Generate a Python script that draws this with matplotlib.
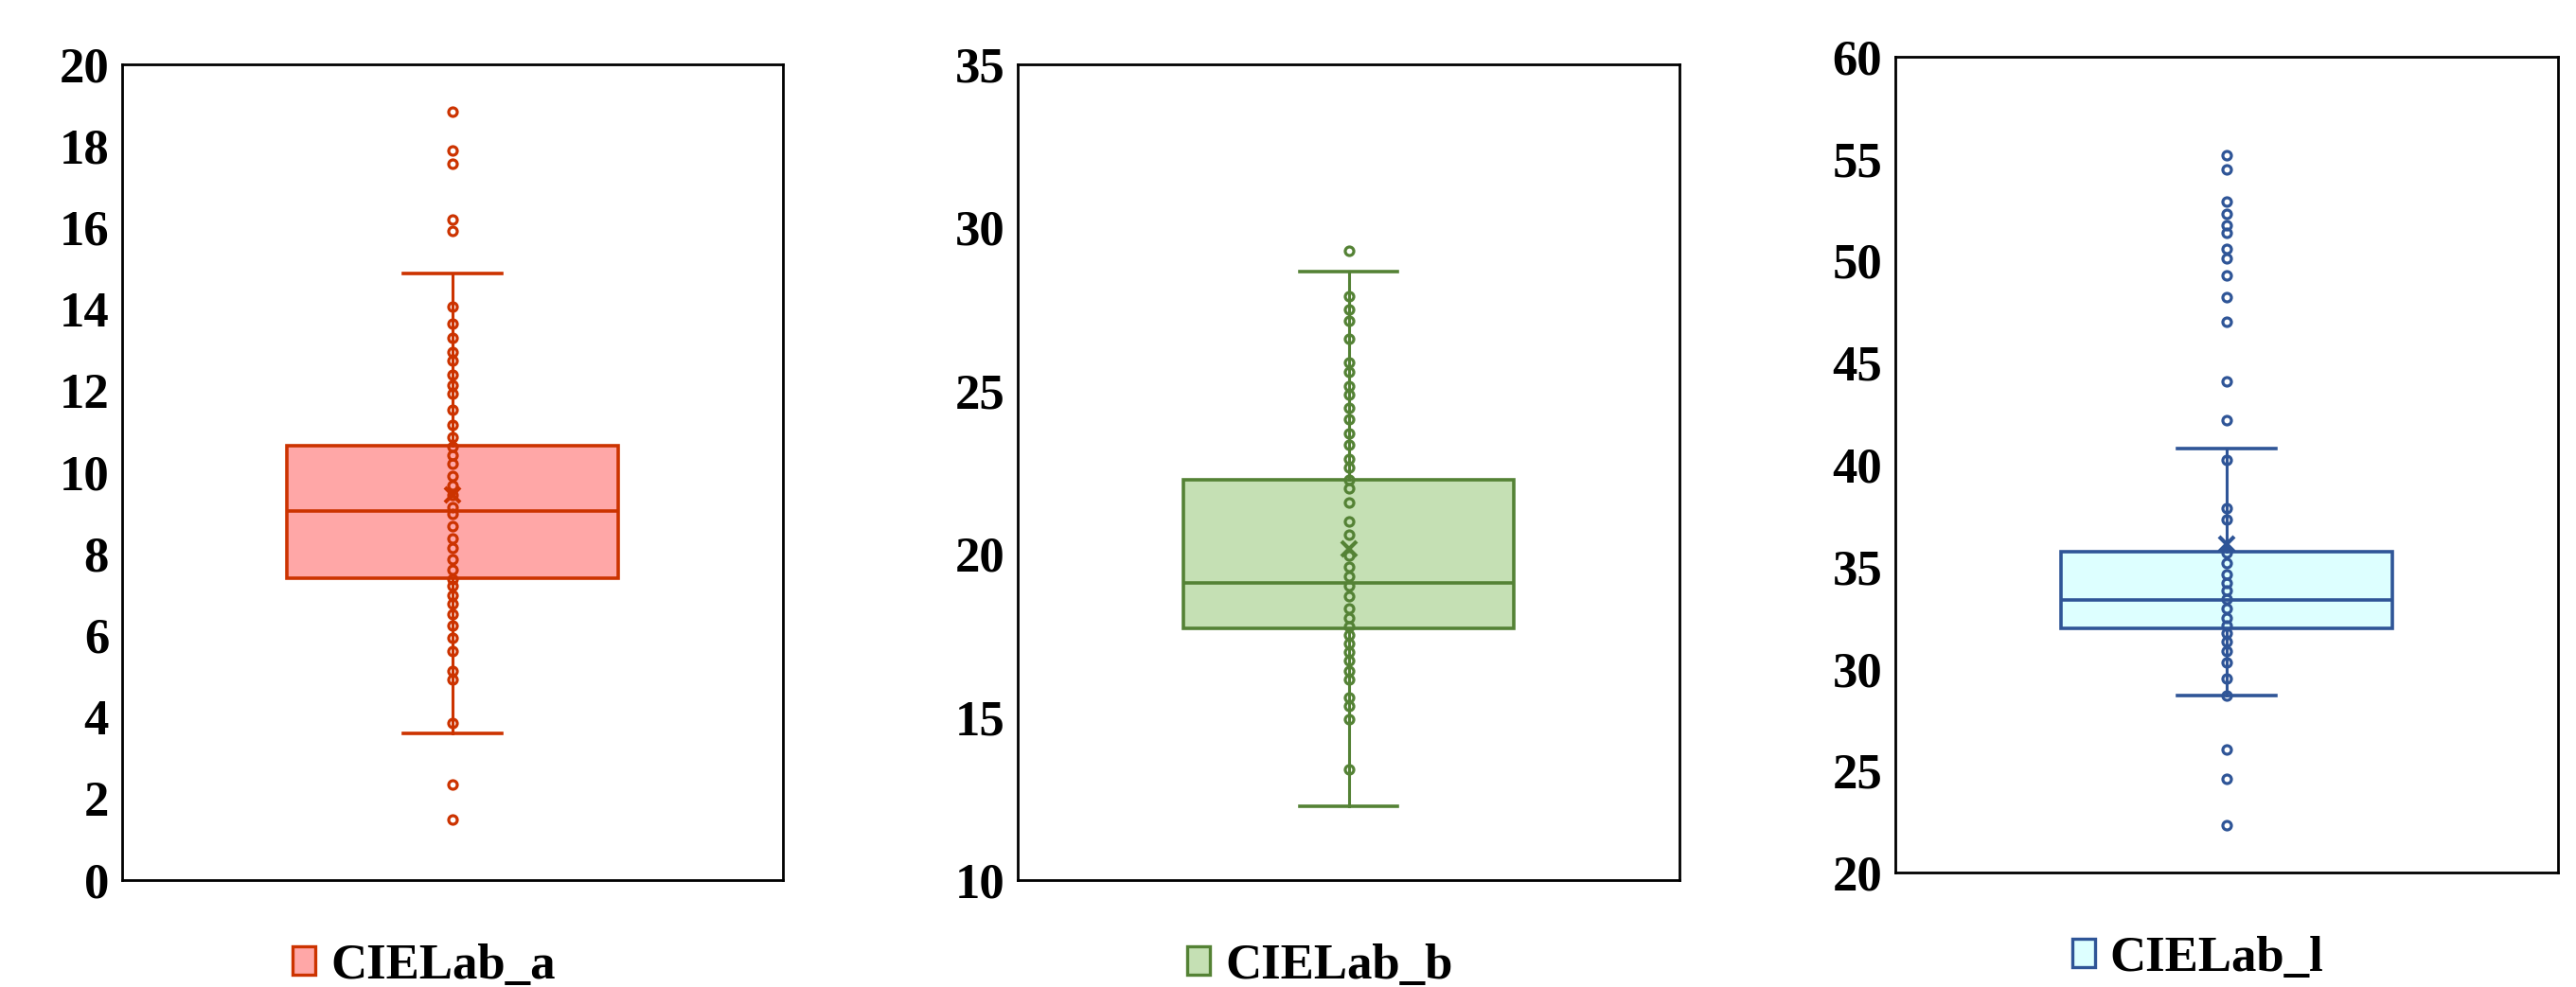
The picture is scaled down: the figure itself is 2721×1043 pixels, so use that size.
import matplotlib
matplotlib.use("Agg")
import matplotlib.pyplot as plt
from matplotlib.patches import Patch

plt.rcParams['font.family'] = ['Liberation Serif', 'DejaVu Serif']
plt.rcParams['font.weight'] = 'bold'

# series names
names = ['CIELab_a', 'CIELab_b', 'CIELab_l']

# inner points / outliers
a_points = [18.84, 17.89, 17.56, 16.20, 15.92, 14.05, 13.64, 13.29, 12.94, 12.74,
            12.38, 12.14, 11.93, 11.54, 11.15, 10.87, 10.62, 10.42, 10.21, 9.90,
            9.68, 9.44, 9.13, 8.97, 8.68, 8.37, 8.15, 7.87, 7.62, 7.38, 7.22,
            6.98, 6.77, 6.51, 6.24, 5.94, 5.61, 5.12, 4.92, 3.86, 2.35, 1.48]
b_points = [29.29, 27.89, 27.50, 27.15, 26.59, 25.86, 25.58, 25.13, 24.89, 24.48,
            24.13, 23.68, 23.34, 22.90, 22.65, 22.26, 22.01, 21.57, 20.98, 20.58,
            19.96, 19.60, 19.30, 19.03, 18.70, 18.31, 18.04, 17.78, 17.52, 17.25,
            17.00, 16.73, 16.40, 16.16, 15.59, 15.35, 14.93, 13.38]
l_points = [55.16, 54.46, 52.90, 52.31, 51.74, 51.35, 50.60, 50.13, 49.27, 48.23,
            47.01, 44.10, 42.20, 40.22, 37.85, 37.30, 35.68, 35.17, 34.63, 34.21,
            33.81, 33.40, 32.93, 32.50, 32.13, 31.73, 31.31, 30.84, 30.30, 29.53,
            28.70, 26.03, 24.58, 22.33]

# box statistics: q1, median, q3, lower whisker, upper whisker, mean
a_stats = [7.40, 9.05, 10.65, 3.60, 14.87, 9.44]
b_stats = [17.71, 19.11, 22.26, 12.25, 28.66, 20.15]
l_stats = [31.96, 33.35, 35.75, 28.68, 40.80, 36.10]

# y axis ranges and ticks
y_ranges = [(0, 20), (10, 35), (20, 60)]
y_ticks = [list(range(0, 21, 2)), list(range(10, 36, 5)), list(range(20, 61, 5))]

edge_colors = ['#CC3300', '#548235', '#2F5597']
fill_colors = ['#FFA7A7', '#C5E0B4', '#DDFFFF']

points_all = [a_points, b_points, l_points]
stats_all = [a_stats, b_stats, l_stats]

W, H = 2721, 1043
fig = plt.figure(figsize=(W / 100, H / 100), dpi=100)

# axes positions in pixels: left, top, right, bottom
boxes = [(129, 68, 827, 930), (1075, 68, 1774, 930), (2002, 60, 2702, 922)]

for i in range(3):
    l, t, r, b = boxes[i]
    ax = fig.add_axes([l / W, 1 - b / H, (r - l) / W, (b - t) / H])
    ec = edge_colors[i]
    q1, med, q3, lo, hi, mean = stats_all[i]
    st = [{'q1': q1, 'med': med, 'q3': q3, 'whislo': lo, 'whishi': hi,
           'mean': mean, 'fliers': []}]
    ax.bxp(st, positions=[1], widths=0.5, capwidths=0.148, patch_artist=True,
           showmeans=False, showfliers=False,
           boxprops=dict(facecolor=fill_colors[i], edgecolor=ec, linewidth=2.6),
           medianprops=dict(color=ec, linewidth=2.6),
           whiskerprops=dict(color=ec, linewidth=2.2),
           capprops=dict(color=ec, linewidth=2.6))
    ax.plot([1] * len(points_all[i]), points_all[i], linestyle='none', marker='o',
            markersize=6.5, markeredgewidth=2.3, markeredgecolor=ec,
            markerfacecolor='none', zorder=4)
    ax.plot([1], [mean], linestyle='none', marker='x', markersize=11,
            markeredgewidth=3, color=ec, zorder=5)

    ax.set_xlim(0.5, 1.5)
    ax.set_ylim(*y_ranges[i])
    ax.set_yticks(y_ticks[i])
    ax.set_xticks([])
    ax.tick_params(axis='y', length=0, pad=10, labelsize=38)
    for lab in ax.get_yticklabels():
        lab.set_fontweight('bold')
    for sp in ax.spines.values():
        sp.set_linewidth(2)
        sp.set_color('black')

    handle = Patch(facecolor=fill_colors[i], edgecolor=ec, linewidth=2.4)
    ax.legend([handle], [names[i]], loc='center', frameon=False,
              bbox_to_anchor=(0.457, -0.105), handlelength=0.45, handleheight=0.5,
              handletextpad=0.3, prop={'size': 38, 'weight': 'bold'})

fig.savefig('out.png', dpi=100, facecolor='white')
